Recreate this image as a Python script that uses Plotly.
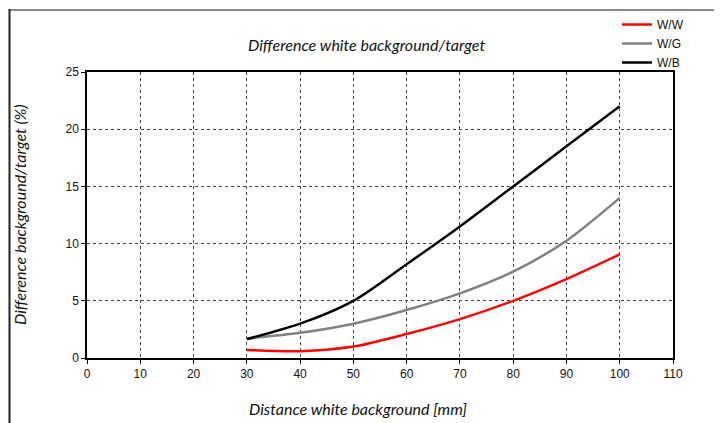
import plotly.graph_objects as go

distance = [30, 40, 50, 60, 70, 80, 90, 100]
ww = [0.7, 0.6, 1.0, 2.1, 3.4, 5.0, 6.9, 9.05]
wg = [1.7, 2.2, 3.0, 4.2, 5.65, 7.55, 10.25, 14.0]
wb = [1.65, 3.0, 5.0, 8.2, 11.5, 15.0, 18.5, 22.0]
x_ticks = list(range(0, 111, 10))
y_ticks = list(range(0, 26, 5))

OFF = 8  # page body margin
W, H = 722 - OFF, 423 - OFF
L, R, T, B = 87, 673, 72, 358


def fx(sx):
    return (sx - OFF) / W


def fy(sy):
    return 1 - (sy - OFF) / H


title_font = dict(family="Lato, Open Sans, sans-serif", size=16, color="#111")
tick_font = dict(family="Liberation Sans, Arial, sans-serif", size=12, color="#111")

fig = go.Figure()
for name, vals, col in [("W/W", ww, "#ff0000"), ("W/G", wg, "#808080"), ("W/B", wb, "#000000")]:
    fig.add_trace(go.Scatter(x=distance, y=vals, name=name, mode="lines",
                             line=dict(color=col, width=2.5, shape="spline", smoothing=0.8)))

axis_common = dict(showline=True, linecolor="#000", linewidth=1.5, mirror=True,
                   showgrid=True, gridcolor="#444", gridwidth=1, griddash="dot",
                   ticks="outside", ticklen=4, tickcolor="#000", zeroline=False,
                   tickfont=tick_font)

fig.update_xaxes(range=[0, 110], tickvals=x_ticks, domain=[fx(L), fx(R)], **axis_common)
fig.update_yaxes(range=[0, 25], tickvals=y_ticks, domain=[fy(B), fy(T)], **axis_common)

fig.update_layout(
    width=W, height=H,
    margin=dict(l=0, r=0, t=0, b=0, pad=0, autoexpand=False),
    paper_bgcolor="white", plot_bgcolor="white",
    showlegend=True,
    legend=dict(x=fx(617), y=fy(10), xanchor="left", yanchor="top",
                font=dict(family="Liberation Sans, Arial, sans-serif", size=12, color="#111"),
                tracegroupgap=0, itemwidth=30, bgcolor="rgba(0,0,0,0)"),
    annotations=[
        dict(text="<i>Difference white background/target</i>", x=fx(366), y=fy(45),
             xref="paper", yref="paper", xanchor="center", yanchor="middle",
             showarrow=False, font=title_font),
        dict(text="<i>Distance white background [mm]</i>", x=fx(358), y=fy(408),
             xref="paper", yref="paper", xanchor="center", yanchor="middle",
             showarrow=False, font=title_font),
        dict(text="<i>Difference background/target (%)</i>", x=fx(19), y=fy(215),
             xref="paper", yref="paper", xanchor="center", yanchor="middle",
             showarrow=False, textangle=-90, font=title_font),
    ],
    shapes=[
        dict(type="line", xref="paper", yref="paper", x0=fx(9), x1=1, y0=fy(10), y1=fy(10),
             line=dict(color="#888", width=2), layer="above"),
        dict(type="line", xref="paper", yref="paper", x0=fx(9.5), x1=fx(9.5), y0=fy(9), y1=0,
             line=dict(color="#222", width=2), layer="above"),
    ],
)

fig.write_html("out.html", config={"displayModeBar": False})
